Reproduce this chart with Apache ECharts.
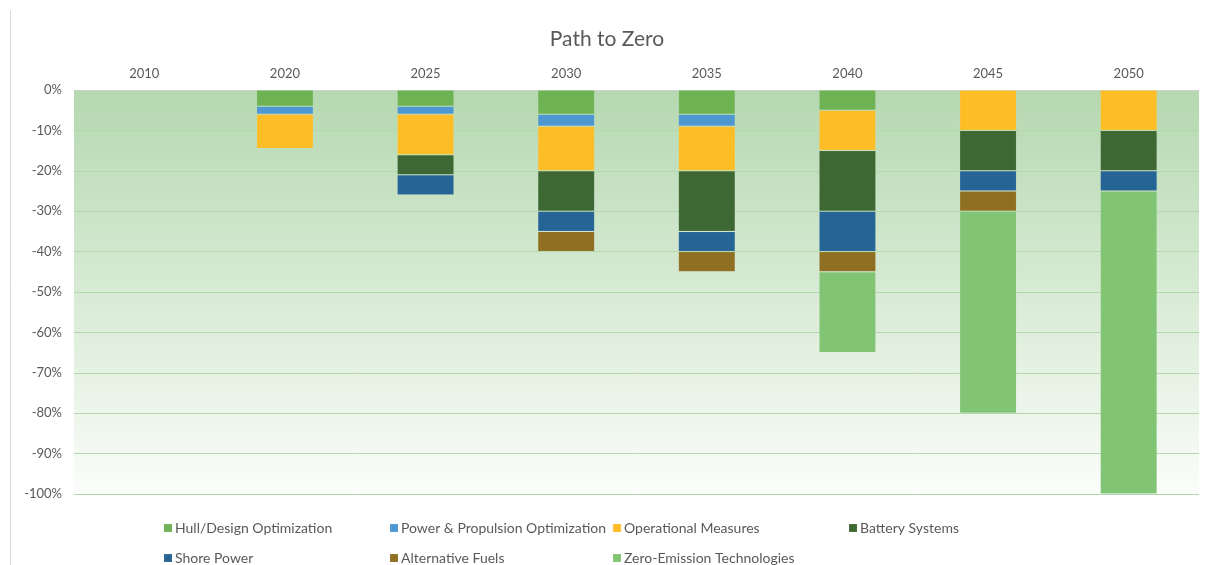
<!DOCTYPE html>
<html>
<head>
<meta charset="utf-8">
<script src="https://cdn.jsdelivr.net/npm/echarts@6/dist/echarts.min.js"></script>
<style>
  html, body { margin: 0; padding: 0; background: #fff; }
  #chart { width: 1214px; height: 565px; }
</style>
</head>
<body>
<div id="chart"></div>
<script>
  // 数据
  const years = ['2010', '2020', '2025', '2030', '2035', '2040', '2045', '2050']
  const hullDesign = ['-', -4, -4, -6, -6, -5, '-', '-']
  const powerPropulsion = ['-', -2, -2, -3, -3, '-', '-', '-']
  const operational = ['-', -8.5, -10, -11, -11, -10, -10, -10]
  const battery = ['-', '-', -5, -10, -15, -15, -10, -10]
  const shorePower = ['-', '-', -5, -5, -5, -10, -5, -5]
  const altFuels = ['-', '-', '-', -5, -5, -5, -5, '-']
  const zeroEmission = ['-', '-', '-', '-', '-', -20, -50, -75]
  const yTicks = { min: -100, max: 0, interval: 10 }

  const seriesNames = [
    'Hull/Design Optimization',
    'Power & Propulsion Optimization',
    'Operational Measures',
    'Battery Systems',
    'Shore Power',
    'Alternative Fuels',
    'Zero-Emission Technologies'
  ]
  const seriesData = [hullDesign, powerPropulsion, operational, battery, shorePower, altFuels, zeroEmission]
  const colors = ['#6db353', '#4e97d1', '#fdbd27', '#3e6833', '#256495', '#8f6f22', '#81c574']

  // 图例位置（两行四列）
  const legendPos = [
    [158, 516], [384, 516], [607, 516], [843, 516],
    [158, 546], [384, 546], [607, 546]
  ]

  const font = 'Lato, "Open Sans", sans-serif'
  const txt = '#595959'

  const mChart = echarts.init(document.getElementById('chart'))

  const series = seriesNames.map((name, i) => ({
    name: name,
    type: 'bar',
    stack: 'total',
    barWidth: 57,
    itemStyle: {
      color: colors[i],
      borderColor: 'rgba(255,255,255,0.08)',
      borderWidth: 1
    },
    emphasis: { disabled: true },
    data: seriesData[i]
  }))

  const legends = seriesNames.map((name, i) => ({
    data: [name],
    left: legendPos[i][0],
    top: legendPos[i][1],
    icon: 'rect',
    itemWidth: 8,
    itemHeight: 8,
    itemGap: 0,
    selectedMode: false,
    textStyle: { color: txt, fontSize: 14, fontFamily: font, padding: [0, 0, 0, -2] }
  }))

  const options = {
    animation: false,
    color: colors,
    title: {
      text: 'Path to Zero',
      left: 'center',
      top: 24,
      textStyle: { color: txt, fontSize: 21, fontWeight: 'normal', fontFamily: font }
    },
    legend: legends,
    grid: {
      left: 74,
      right: 15,
      top: 90,
      bottom: 71,
      show: true,
      borderWidth: 0,
      backgroundColor: {
        type: 'linear', x: 0, y: 0, x2: 0, y2: 1,
        colorStops: [
          { offset: 0, color: '#b5d8b0' },
          { offset: 1, color: '#fbfdfa' }
        ]
      }
    },
    xAxis: {
      type: 'category',
      position: 'top',
      data: years,
      axisTick: { show: false },
      axisLine: { lineStyle: { color: '#d0d0d0', width: 1 } },
      axisLabel: { color: txt, fontSize: 13, fontFamily: font, margin: 10 }
    },
    yAxis: {
      type: 'value',
      min: yTicks.min,
      max: yTicks.max,
      interval: yTicks.interval,
      axisLine: { show: false },
      axisTick: { show: false },
      splitLine: { lineStyle: { color: '#b3d8ad', width: 1 } },
      axisLabel: {
        color: txt,
        fontSize: 13,
        fontFamily: font,
        margin: 12,
        formatter: v => v + '%'
      }
    },
    graphic: [
      {
        type: 'line',
        shape: { x1: 10.5, y1: 10, x2: 10.5, y2: 565 },
        style: { stroke: '#d9d9d9', lineWidth: 1 },
        silent: true
      }
    ],
    series: series
  }

  mChart.setOption(options)
</script>
</body>
</html>
